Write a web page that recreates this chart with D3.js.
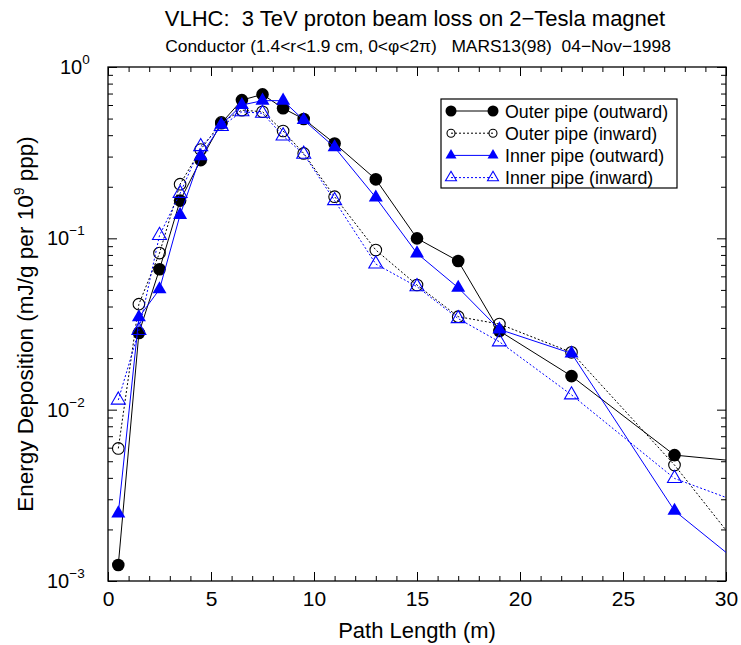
<!DOCTYPE html>
<html>
<head>
<meta charset="utf-8">
<script src="https://cdn.jsdelivr.net/npm/d3@7"></script>
<style>
  body { margin: 0; background: #fff; }
  text { font-family: "Liberation Sans", Arial, sans-serif; fill: #000; }
</style>
</head>
<body>
<div id="viz"></div>
<script>
/* ===== Data ===== */
const pathLength = [0.5, 1.5, 2.5, 3.5, 4.5, 5.5, 6.5, 7.5, 8.5, 9.5, 11, 13, 15, 17, 19, 22.5, 27.5, 32.5];
const outerOutward = [0.00124, 0.028, 0.066, 0.166, 0.286, 0.47, 0.641, 0.692, 0.574, 0.497, 0.358, 0.221, 0.0999, 0.0737, 0.0288, 0.0157, 0.00543, 0.00475];
const outerInward = [0.00594, 0.0413, 0.082, 0.207, 0.33, 0.475, 0.56, 0.548, 0.423, 0.313, 0.175, 0.0855, 0.0534, 0.0349, 0.0316, 0.0216, 0.00475, 0.000826];
const innerOutward = [0.00248, 0.0346, 0.0504, 0.137, 0.302, 0.46, 0.60, 0.636, 0.636, 0.49, 0.34, 0.173, 0.0817, 0.0515, 0.0294, 0.0213, 0.00257, 0.00084];
const innerInward = [0.01138, 0.029, 0.104, 0.183, 0.343, 0.45, 0.548, 0.537, 0.396, 0.31, 0.166, 0.0708, 0.0522, 0.034, 0.0249, 0.0122, 0.00397, 0.00238];
const seriesNames = ['Outer pipe (outward)', 'Outer pipe (inward)', 'Inner pipe (outward)', 'Inner pipe (inward)'];
const xTicks = [0, 5, 10, 15, 20, 25, 30];
const yDecades = [0, -1, -2, -3];

const series = [
  { name: seriesNames[0], values: outerOutward, color: '#000', dash: null, shape: 'circle', filled: true },
  { name: seriesNames[1], values: outerInward, color: '#000', dash: '2,2', shape: 'circle', filled: false },
  { name: seriesNames[2], values: innerOutward, color: '#0000ff', dash: null, shape: 'triangle', filled: true },
  { name: seriesNames[3], values: innerInward, color: '#0000ff', dash: '2,2', shape: 'triangle', filled: false }
];

/* ===== Dimensions ===== */
const width = 741;
const height = 645;
const margin = { top: 67, right: 15, bottom: 64, left: 108 };
const x0 = margin.left, x1 = width - margin.right;
const y0 = margin.top, y1 = height - margin.bottom;

const svg = d3.select('#viz').append('svg')
  .attr('width', width)
  .attr('height', height);

const xScale = d3.scaleLinear().domain([0, 30]).range([x0, x1]);
const yScale = d3.scaleLog().domain([1e-3, 1]).range([y1, y0]);

svg.append('clipPath').attr('id', 'plotClip')
  .append('rect').attr('x', x0).attr('y', y0).attr('width', x1 - x0).attr('height', y1 - y0);

/* ===== Axes (ticks pointing inward on all sides) ===== */
const minorX = d3.range(0, 31).filter(d => d % 5 !== 0);
const minorY = [];
[-3, -2, -1].forEach(e => { for (let k = 2; k <= 9; k++) minorY.push(k * Math.pow(10, e)); });
const majorY = yDecades.map(e => Math.pow(10, e));

function addAxis(gen, transform) {
  const g = svg.append('g').attr('transform', transform).call(gen);
  g.select('.domain').remove();
  g.selectAll('.tick line').attr('stroke', '#000').attr('stroke-width', 1);
  return g;
}

const bottomMajor = addAxis(d3.axisBottom(xScale).tickValues(xTicks).tickSize(-9).tickPadding(10).tickFormat(d3.format('d')), `translate(0,${y1})`);
bottomMajor.selectAll('.tick text').attr('font-size', 21).attr('font-family', '"Liberation Sans", Arial, sans-serif');
addAxis(d3.axisBottom(xScale).tickValues(minorX).tickSize(-5).tickFormat(''), `translate(0,${y1})`);
addAxis(d3.axisTop(xScale).tickValues(xTicks).tickSize(-9).tickFormat(''), `translate(0,${y0})`);
addAxis(d3.axisTop(xScale).tickValues(minorX).tickSize(-5).tickFormat(''), `translate(0,${y0})`);
addAxis(d3.axisLeft(yScale).tickValues(majorY).tickSize(-9).tickFormat(''), `translate(${x0},0)`);
addAxis(d3.axisLeft(yScale).tickValues(minorY).tickSize(-5).tickFormat(''), `translate(${x0},0)`);
addAxis(d3.axisRight(yScale).tickValues(majorY).tickSize(-9).tickFormat(''), `translate(${x1},0)`);
addAxis(d3.axisRight(yScale).tickValues(minorY).tickSize(-5).tickFormat(''), `translate(${x1},0)`);

// y tick labels as 10^n
yDecades.forEach(e => {
  const t = svg.append('text')
    .attr('x', e === 0 ? 60 : 47)
    .attr('y', yScale(Math.pow(10, e)) + 7)
    .attr('font-size', 20);
  t.append('tspan').text('10');
  t.append('tspan').attr('dy', -10).attr('font-size', 13.5).text(e === 0 ? '0' : '\u2212' + Math.abs(e));
});

// frame
svg.append('rect')
  .attr('x', x0).attr('y', y0)
  .attr('width', x1 - x0).attr('height', y1 - y0)
  .attr('fill', 'none').attr('stroke', '#000').attr('stroke-width', 1.3);

/* ===== Series ===== */
const plot = svg.append('g').attr('clip-path', 'url(#plotClip)');
const line = d3.line().x(d => xScale(d[0])).y(d => yScale(d[1]));

function drawMarker(g, s, cx, cy, big) {
  if (s.shape === 'circle') {
    g.append('circle')
      .attr('cx', cx).attr('cy', cy)
      .attr('r', s.filled ? (big ? 6.3 : 5.5) : (big ? 5.8 : 4))
      .attr('fill', s.filled ? s.color : 'none')
      .attr('stroke', s.color).attr('stroke-width', s.filled ? 0 : 1.1);
  } else {
    const side = big ? 14 : 11;
    g.append('path')
      .attr('d', d3.symbol(d3.symbolTriangle, side * side * Math.sqrt(3) / 4)())
      .attr('transform', `translate(${cx},${cy})`)
      .attr('fill', s.filled ? s.color : 'none')
      .attr('stroke', s.color).attr('stroke-width', s.filled ? 0 : 1.1);
  }
}

series.forEach(s => {
  const pts = pathLength.map((p, i) => [p, s.values[i]]);
  plot.append('path')
    .attr('d', line(pts))
    .attr('fill', 'none')
    .attr('stroke', s.color)
    .attr('stroke-width', 1)
    .attr('stroke-dasharray', s.dash);
  const mg = plot.append('g');
  pts.filter(d => d[0] <= 30).forEach(d => drawMarker(mg, s, xScale(d[0]), yScale(d[1]), true));
});

/* ===== Legend ===== */
const legend = svg.append('g');
legend.append('rect')
  .attr('x', 441).attr('y', 99).attr('width', 236).attr('height', 89)
  .attr('fill', '#fff').attr('stroke', '#000').attr('stroke-width', 1.2);
series.forEach((s, i) => {
  const ly = 111 + i * 22.2;
  legend.append('line')
    .attr('x1', 451).attr('x2', 493).attr('y1', ly).attr('y2', ly)
    .attr('stroke', s.color).attr('stroke-width', 1)
    .attr('stroke-dasharray', s.dash);
  drawMarker(legend, s, 451, ly, false);
  drawMarker(legend, s, 493, ly, false);
  legend.append('text')
    .attr('x', 505).attr('y', ly + 6.5)
    .attr('font-size', 17.8)
    .text(s.name);
});

/* ===== Titles ===== */
const cx = (x0 + x1) / 2;
svg.append('text')
  .attr('x', cx - 2).attr('y', 26)
  .attr('text-anchor', 'middle')
  .attr('font-size', 22)
  .style('white-space', 'pre')
  .text('VLHC:  3 TeV proton beam loss on 2\u2212Tesla magnet');
svg.append('text')
  .attr('x', cx + 1).attr('y', 52)
  .attr('text-anchor', 'middle')
  .attr('font-size', 17.4)
  .style('white-space', 'pre')
  .text('Conductor (1.4<r<1.9 cm, 0<\u03c6<2\u03c0)   MARS13(98)  04\u2212Nov\u22121998');

svg.append('text')
  .attr('x', cx).attr('y', 638)
  .attr('text-anchor', 'middle')
  .attr('font-size', 22)
  .text('Path Length (m)');

const yl = svg.append('text')
  .attr('transform', `translate(33,${(y0 + y1) / 2}) rotate(-90)`)
  .attr('text-anchor', 'middle')
  .attr('font-size', 22.5);
yl.append('tspan').text('Energy Deposition (mJ/g per 10');
yl.append('tspan').attr('dy', -9).attr('font-size', 14).text('9');
yl.append('tspan').attr('dy', 9).text(' ppp)');
</script>
</body>
</html>
